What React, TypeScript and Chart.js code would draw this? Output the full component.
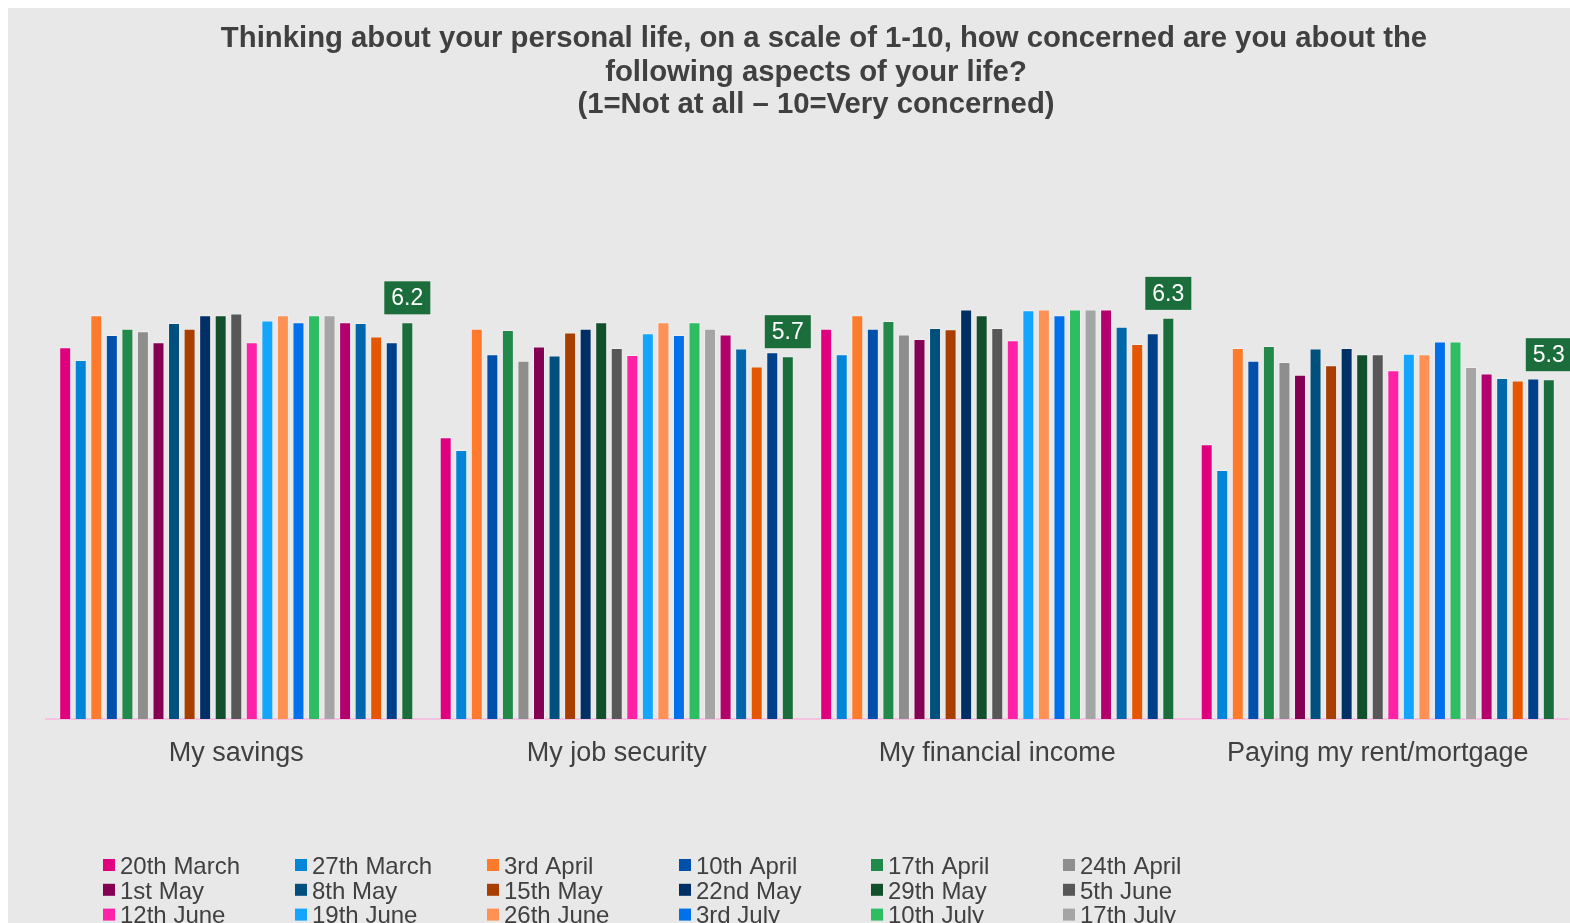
import React, { useEffect, useRef } from "react";
import { Chart, registerables } from "chart.js";

Chart.register(...registerables);

const titleLines = [
  "Thinking about your personal life, on a scale of 1-10, how concerned are you about the",
  "following aspects of your life?",
  "(1=Not at all \u2013 10=Very concerned)",
];

const categories = ["My savings", "My job security", "My financial income", "Paying my rent/mortgage"];

const seriesLabels = [
  "20th March", "27th March", "3rd April", "10th April", "17th April", "24th April",
  "1st May", "8th May", "15th May", "22nd May", "29th May", "5th June",
  "12th June", "19th June", "26th June", "3rd July", "10th July", "17th July",
  "24th July", "31st July", "7th August", "14th August", "21st August",
];

const seriesColors = [
  "#E0007F", "#0085D8", "#FF7A2A", "#004FAA", "#218A4A", "#8E8E8E",
  "#850052", "#00507E", "#A83F00", "#002F66", "#124F2B", "#575757",
  "#FF22A6", "#14A6FF", "#FF9155", "#0070EB", "#2FBD64", "#A5A5A5",
  "#B2006D", "#0068AA", "#E65600", "#003F8A", "#1A6E3B",
];

const savings = [5.82, 5.62, 6.32, 6.01, 6.11, 6.07, 5.9, 6.2, 6.11, 6.32, 6.32, 6.35, 5.9, 6.24, 6.32, 6.21, 6.32, 6.32, 6.21, 6.2, 5.99, 5.9, 6.21];
const jobSecurity = [4.41, 4.21, 6.11, 5.71, 6.09, 5.61, 5.83, 5.69, 6.05, 6.11, 6.21, 5.81, 5.7, 6.04, 6.21, 6.01, 6.21, 6.11, 6.02, 5.8, 5.52, 5.74, 5.68];
const financialIncome = [6.11, 5.71, 6.32, 6.11, 6.23, 6.02, 5.95, 6.12, 6.1, 6.41, 6.32, 6.12, 5.93, 6.4, 6.41, 6.32, 6.41, 6.41, 6.41, 6.14, 5.87, 6.04, 6.28];
const rentMortgage = [4.3, 3.9, 5.81, 5.61, 5.84, 5.59, 5.39, 5.8, 5.54, 5.81, 5.71, 5.71, 5.46, 5.72, 5.71, 5.91, 5.91, 5.51, 5.41, 5.34, 5.3, 5.33, 5.32];

const byCategory = [savings, jobSecurity, financialIncome, rentMortgage];

const FONT = "'Liberation Sans', Arial, sans-serif";
const TEXT = "#404040";
const LABEL_GREEN = "#1B6E3B";

const titlePlugin = {
  id: "customTitle",
  afterDraw(chart: any) {
    const ctx = chart.ctx;
    ctx.save();
    ctx.fillStyle = TEXT;
    ctx.font = `bold 29.3px ${FONT}`;
    ctx.textAlign = "center";
    ctx.textBaseline = "middle";
    const ys = [31, 65, 97];
    const xs = [816, 808, 808];
    titleLines.forEach((t, i) => ctx.fillText(t, xs[i], ys[i]));
    ctx.restore();
  },
};

const lastLabelPlugin = {
  id: "lastLabel",
  afterDatasetsDraw(chart: any) {
    const ctx = chart.ctx;
    const di = chart.data.datasets.length - 1;
    const meta = chart.getDatasetMeta(di);
    ctx.save();
    ctx.font = `23px ${FONT}`;
    ctx.textAlign = "center";
    ctx.textBaseline = "middle";
    meta.data.forEach((bar: any, i: number) => {
      const v = chart.data.datasets[di].data[i] as number;
      const w = 46;
      const h = 33;
      const x = bar.x - w / 2;
      const y = bar.y - 8 - h;
      ctx.fillStyle = LABEL_GREEN;
      ctx.fillRect(x, y, w, h);
      ctx.fillStyle = "#FFFFFF";
      ctx.fillText(v.toFixed(1), bar.x, y + h / 2 + 1);
    });
    ctx.restore();
  },
};

const legendPlugin = {
  id: "gridLegend",
  afterDraw(chart: any) {
    const ctx = chart.ctx;
    ctx.save();
    ctx.font = `24px ${FONT}`;
    ctx.textBaseline = "alphabetic";
    ctx.textAlign = "left";
    const cols = 6;
    chart.data.datasets.forEach((ds: any, i: number) => {
      const col = i % cols;
      const row = Math.floor(i / cols);
      const x = 95 + col * 192;
      const y = 857 + row * 24.8;
      ctx.fillStyle = ds.backgroundColor;
      ctx.fillRect(x, y - 6, 12, 12);
      ctx.fillStyle = TEXT;
      ctx.fillText(ds.label, x + 17, y + 8.7);
    });
    ctx.restore();
  },
};

export default function App() {
  const ref = useRef<HTMLCanvasElement | null>(null);

  useEffect(() => {
    document.documentElement.style.overflow = "hidden";
    document.body.style.overflow = "hidden";
    if (!ref.current) return;
    const datasets = seriesLabels.map((label, s) => ({
      label,
      data: byCategory.map((arr) => arr[s]),
      backgroundColor: seriesColors[s],
      borderColor: "rgba(255,255,255,0.3)",
      borderWidth: 1,
      categoryPercentage: 0.94,
      barPercentage: 0.77,
    }));
    const chart = new Chart(ref.current, {
      type: "bar",
      data: { labels: categories, datasets },
      options: {
        animation: false,
        responsive: false,
        devicePixelRatio: 1,
        layout: { padding: { top: 200, left: 38, right: 2, bottom: 144 } },
        plugins: {
          legend: { display: false },
          title: { display: false },
          tooltip: { enabled: false },
        },
        scales: {
          x: {
            grid: { display: false, drawTicks: false },
            border: { display: true, color: "#F2C4E2", width: 2 },
            ticks: {
              color: TEXT,
              font: { family: FONT, size: 27 },
              padding: 18,
            },
            afterFit: (s: any) => {
              s.height = 60;
            },
          },
          y: { display: false, min: 0, max: 8 },
        },
      },
      plugins: [titlePlugin, lastLabelPlugin, legendPlugin],
    });
    return () => chart.destroy();
  }, []);

  return (
    <div
      style={{
        position: "fixed",
        left: 8,
        top: 8,
        width: 1562,
        height: 915,
        background: "#E8E8E8",
        overflow: "hidden",
      }}
    >
      <canvas ref={ref} width={1562} height={915} style={{ display: "block" }} />
    </div>
  );
}
